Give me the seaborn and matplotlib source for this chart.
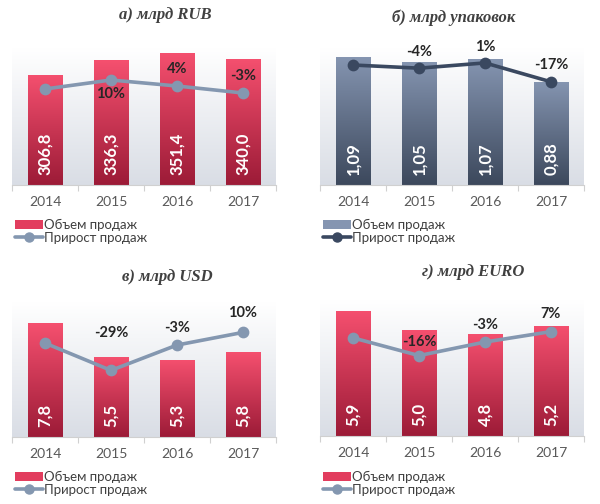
import numpy as np
import matplotlib
matplotlib.use("Agg")
import matplotlib.pyplot as plt
import seaborn as sns
from matplotlib.colors import LinearSegmentedColormap
from matplotlib.patches import Patch
from matplotlib.lines import Line2D

# ---------------- data ----------------
years = ["2014", "2015", "2016", "2017"]

rub_volume = [306.8, 336.3, 351.4, 340.0]
rub_growth = [1, 10, 4, -3]

pack_volume = [1.09, 1.05, 1.07, 0.88]
pack_growth = [-1, -4, 1, -17]

usd_volume = [7.8, 5.5, 5.3, 5.8]
usd_growth = [-1, -29, -3, 10]

eur_volume = [5.9, 5.0, 4.8, 5.2]
eur_growth = [1, -16, -3, 7]

legend_labels = ["Объем продаж", "Прирост продаж"]

# ---------------- style ----------------
sns.set_theme(style="white")
plt.rcParams["font.family"] = ["Lato", "DejaVu Sans"]

W, H = 600, 504
fig = plt.figure(figsize=(W / 100, H / 100), dpi=100)

RED = ("#f5506f", "#9c1b37")
BLUE = ("#8595b1", "#3c485c")

panels = [
    dict(title="а) млрд RUB", vol=rub_volume, gr=rub_growth, dec=1,
         rect=(12, 48, 276, 185), ylim=(83.6, 361.5), y2lim=(-95, 42),
         bar=RED, line="#8497b0", title_xy=(165, 15), legend_xy=(15, 219),
         off=[None, -14, 17, 17]),
    dict(title="б) млрд упаковок", vol=pack_volume, gr=pack_growth, dec=2,
         rect=(320, 48, 584, 185), ylim=(0, 1.166), y2lim=(-115.2, 15.2),
         bar=BLUE, line="#3a4860", title_xy=(454, 18), legend_xy=(323, 219),
         off=[None, 16, 16, 17]),
    dict(title="в) млрд USD", vol=usd_volume, gr=usd_growth, dec=1,
         rect=(12, 302, 276, 437), ylim=(0, 9.25), y2lim=(-97.4, 41.2),
         bar=RED, line="#8497b0", title_xy=(167, 277), legend_xy=(15, 471),
         off=[None, 37, 17, 19]),
    dict(title="г) млрд EURO", vol=eur_volume, gr=eur_growth, dec=1,
         rect=(320, 300, 584, 436), ylim=(0, 6.4), y2lim=(-93.1, 37.3),
         bar=RED, line="#8497b0", title_xy=(473, 272), legend_xy=(323, 471),
         off=[None, 14, 17, 18]),
]

grad = np.linspace(0, 1, 256).reshape(-1, 1)
bg_cmap = LinearSegmentedColormap.from_list("bg", ["#d9dde5", "#ffffff"])

for p in panels:
    x0, y0, x1, y1 = p["rect"]
    ax = fig.add_axes([x0 / W, 1 - y1 / H, (x1 - x0) / W, (y1 - y0) / H])
    top_c, bot_c = p["bar"]

    sns.barplot(x=years, y=p["vol"], ax=ax, color=top_c, width=0.52,
                linewidth=0, saturation=1)

    # gradient fill of bars
    cmap = LinearSegmentedColormap.from_list("bar", [bot_c, top_c])
    ylo = p["ylim"][0]
    for patch in list(ax.patches):
        bx, bw = patch.get_x(), patch.get_width()
        btop = patch.get_y() + patch.get_height()
        im = ax.imshow(grad, cmap=cmap, aspect="auto", origin="lower",
                       extent=[bx, bx + bw, ylo, btop], zorder=patch.get_zorder() + 0.1,
                       interpolation="bilinear")
        im.set_clip_path(patch)

    # background gradient
    ax.imshow(grad, cmap=bg_cmap, aspect="auto", origin="lower",
              extent=[0, 1, 0, 1], transform=ax.transAxes, zorder=0,
              interpolation="bilinear")
    ax.patch.set_visible(False)

    ax.set_xlim(-0.5, 3.5)
    ax.set_ylim(*p["ylim"])
    ax.set_xlabel("")
    ax.set_ylabel("")
    ax.set_yticks([])
    for s in ["top", "left", "right"]:
        ax.spines[s].set_visible(False)
    ax.spines["bottom"].set_color("#d0d0d0")
    ax.spines["bottom"].set_linewidth(0.8)
    ax.set_xticks(range(len(years)))
    ax.set_xticklabels(years)
    ax.set_xticks([-0.5, 0.5, 1.5, 2.5, 3.5], minor=True)
    ax.tick_params(axis="x", which="major", length=0, pad=8, labelsize=10,
                   labelcolor="#595959")
    ax.tick_params(axis="x", which="minor", length=4, color="#d0d0d0",
                   width=0.8, direction="out", bottom=True)

    # value labels inside bars
    fmt = "{:.%df}" % p["dec"]
    for i, v in enumerate(p["vol"]):
        ax.annotate(fmt.format(v).replace(".", ","), xy=(i, ylo),
                    xytext=(0, 10), textcoords="offset pixels",
                    rotation=90, ha="center", va="bottom", color="white",
                    fontsize=12, fontweight="bold", zorder=5)

    # growth line
    ax2 = ax.twinx()
    sns.pointplot(x=years, y=p["gr"], ax=ax2, color=p["line"], markers="o",
                  markersize=6.5, linewidth=2.6, errorbar=None)
    ax2.set_ylim(*p["y2lim"])
    ax2.set_xlim(-0.5, 3.5)
    ax2.set_ylabel("")
    ax2.set_yticks([])
    for s in ax2.spines.values():
        s.set_visible(False)
    for i, g in enumerate(p["gr"]):
        if p["off"][i] is None:
            continue
        ax2.annotate(f"{g}%", xy=(i, g), xytext=(0, p["off"][i]),
                     textcoords="offset pixels", ha="center", va="center",
                     fontsize=10.5, fontweight="bold", color="#262626")

    # title
    fig.text(p["title_xy"][0] / W, 1 - p["title_xy"][1] / H, p["title"],
             ha="center", va="center", fontsize=12, fontweight="bold",
             fontstyle="italic", family=["Liberation Serif", "DejaVu Serif"],
             color="#404040")

    # legend
    handles = [
        Patch(facecolor=(top_c if p["bar"] == BLUE else "#e23d5e"), edgecolor="none"),
        Line2D([0], [0], color=p["line"], lw=2.6, marker="o", markersize=6.5),
    ]
    lx, ly = p["legend_xy"]
    fig.legend(handles, legend_labels, loc="upper left",
               bbox_to_anchor=(lx / W, 1 - ly / H), frameon=False,
               fontsize=9.5, handlelength=2.1, handletextpad=0.1,
               labelspacing=0.05, borderpad=0, borderaxespad=0,
               labelcolor="#404040")

fig.savefig("out.png", dpi=100)
